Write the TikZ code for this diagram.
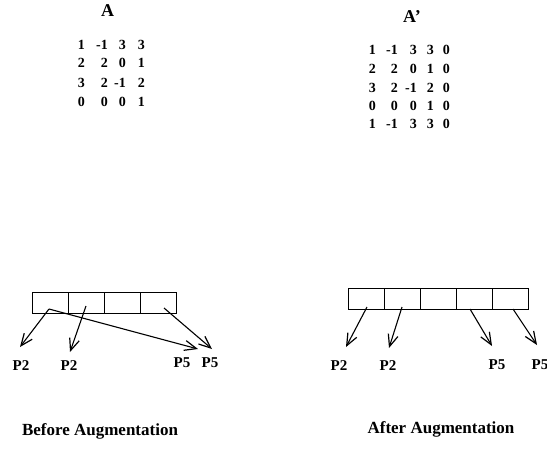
\documentclass[tikz,border=0pt]{standalone}
\usepackage{fontspec}
\setmainfont{Liberation Serif}
\usetikzlibrary{arrows.meta}
\begin{document}
\begin{tikzpicture}[x=1pt,y=-1pt,
  cell/.style={draw, line width=1pt, minimum width=36pt, minimum height=21pt, inner sep=0pt, anchor=north west},
  ptr/.style={line width=1.1pt, -{Straight Barb[length=12pt,width=10pt,line width=1.2pt]}},
  num/.style={font=\fontsize{14}{14}\selectfont\bfseries, anchor=base east, inner sep=0pt},
  lbl/.style={font=\fontsize{15}{15}\selectfont\bfseries, inner sep=0pt},
  ttl/.style={font=\fontsize{18}{18}\selectfont\bfseries, inner sep=0pt},
  captext/.style={font=\fontsize{17}{17}\selectfont\bfseries, inner sep=0pt}]
\useasboundingbox (0,0) rectangle (547,450);

% titles
\node[ttl] (tA) at (107.5,11) {A};
\node[ttl] (tB) at (412,16.5) {A’};

% matrix A
\foreach \r/\y/\vals in {1/49.5/{1,-1,3,3},2/67.5/{2,2,0,1},3/87/{3,2,-1,2},4/106/{0,0,0,1}}{
  \foreach \v [count=\c] in \vals {
    \pgfmathsetmacro{\xx}{{85,108,126,145}[\c-1]}
    \node[num] (a-\r-\c) at (\xx,\y) {\v};
  }
}
% matrix A'
\foreach \r/\y/\vals in {1/54.5/{1,-1,3,3,0},2/73/{2,2,0,1,0},3/92/{3,2,-1,2,0},4/110.5/{0,0,0,1,0},5/128.5/{1,-1,3,3,0}}{
  \foreach \v [count=\c] in \vals {
    \pgfmathsetmacro{\xx}{{376,398,417,434,450}[\c-1]}
    \node[num] (b-\r-\c) at (\xx,\y) {\v};
  }
}

% left array
\foreach \i in {0,...,3}{\node[cell] (L\i) at (32+36*\i,292) {};}
% right array
\foreach \i in {0,...,4}{\node[cell] (R\i) at (348+36*\i,288) {};}

% left labels
\node[lbl] (lp1) at (21,366) {P2};
\node[lbl] (lp2) at (69,366) {P2};
\node[lbl] (lp3) at (182,363) {P5};
\node[lbl] (lp4) at (210,363) {P5};
% right labels
\node[lbl] (rp1) at (339,366) {P2};
\node[lbl] (rp2) at (388,366) {P2};
\node[lbl] (rp3) at (497,365) {P5};
\node[lbl] (rp4) at (540,365) {P5};

% left arrows
\coordinate (ls1) at (49,309);
\coordinate (ls2) at (86,306);
\coordinate (ls4) at (164,308);
\coordinate (lt1) at (20,347);
\coordinate (lt2) at (70,352);
\coordinate (lt3) at (198,349);
\coordinate (lt4) at (212,349);
\draw[ptr] (ls1) -- (lt1);
\draw[ptr] (ls2) -- (lt2);
\draw[ptr] (ls1) -- (lt3);
\draw[ptr] (ls4) -- (lt4);

% right arrows
\coordinate (rs1) at (367,307);
\coordinate (rs2) at (402,307);
\coordinate (rs3) at (470,309);
\coordinate (rs4) at (513,309);
\coordinate (rt1) at (346,347);
\coordinate (rt2) at (389,348);
\coordinate (rt3) at (492,346);
\coordinate (rt4) at (537,345);
\draw[ptr] (rs1) -- (rt1);
\draw[ptr] (rs2) -- (rt2);
\draw[ptr] (rs3) -- (rt3);
\draw[ptr] (rs4) -- (rt4);

% captions
\node[captext] (c1) at (100,431) {Before Augmentation};
\node[captext] (c2) at (441,429) {After Augmentation};
\end{tikzpicture}
\end{document}
